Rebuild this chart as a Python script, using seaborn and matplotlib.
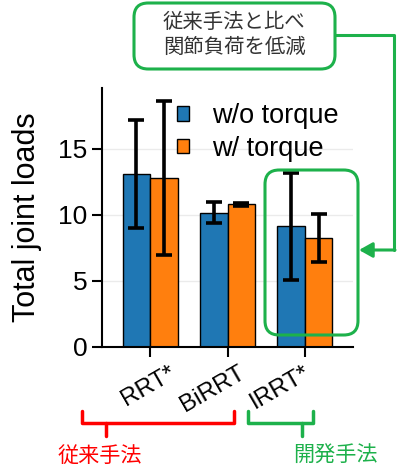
import numpy as np
import pandas as pd
import matplotlib
matplotlib.use("Agg")
import matplotlib.pyplot as plt
import matplotlib.transforms as mtransforms
import seaborn as sns
from matplotlib.lines import Line2D
from matplotlib.patches import FancyBboxPatch, FancyArrowPatch

# Data
planners = ["RRT*", "BiRRT", "IRRT*"]
conditions = ["w/o torque", "w/ torque"]
load_wo = [13.1, 10.15, 9.15]
load_w = [12.8, 10.8, 8.25]
err_wo = [4.1, 0.8, 4.05]
err_w = [5.8, 0.1, 1.85]

callout_text = "従来手法と比べ\n関節負荷を低減"
group_labels = ["従来手法", "開発手法"]

RED = "#ff0000"
GREEN = "#1db14b"
W, H = 407, 471
JP = ["Noto Sans CJK JP", "DejaVu Sans"]


def px(x, y):
    """pixel (from top-left) -> figure fraction"""
    return x / W, 1 - y / H


df = pd.DataFrame({
    "planner": planners * 2,
    "cond": [conditions[0]] * 3 + [conditions[1]] * 3,
    "load": load_wo + load_w,
})

sns.set_style("ticks")
plt.rcParams["font.family"] = ["Liberation Sans", "Noto Sans CJK JP", "DejaVu Sans"]
plt.rcParams.update({"text.color": "black", "axes.labelcolor": "black",
                     "xtick.color": "black", "ytick.color": "black",
                     "axes.edgecolor": "black"})

fig = plt.figure(figsize=(W / 100, H / 100), dpi=100)
ax = fig.add_axes([px(102, 0)[0], px(0, 347)[1], (353 - 102) / W, (347 - 88) / H])

sns.barplot(data=df, x="planner", y="load", hue="cond", hue_order=conditions,
            palette=["#1f77b4", "#ff7f0e"], saturation=1, edgecolor="black",
            linewidth=1, width=0.71, errorbar=None, ax=ax, zorder=2)

# error bars on top of the drawn bars
for cont, errs in zip(ax.containers, [err_wo, err_w]):
    for bar, e in zip(cont, errs):
        xc = bar.get_x() + bar.get_width() / 2
        ax.errorbar(xc, bar.get_height(), yerr=e, color="black", lw=2.6,
                    capsize=5.5, capthick=2.6, zorder=3)

ax.set_xlim(-0.62, 2.62)
ax.set_ylim(0, 19.6)
ax.set_yticks([0, 5, 10, 15])
ax.yaxis.grid(True, color="#ebebeb", lw=1, zorder=0)
ax.set_axisbelow(True)
sns.despine(ax=ax)
for s in ["left", "bottom"]:
    ax.spines[s].set_linewidth(1.5)
ax.tick_params(axis="both", length=7, width=1.5, direction="out")
ax.tick_params(axis="y", labelsize=19)
ax.set_xlabel("")
ax.set_ylabel("Total joint loads", fontsize=22, labelpad=12)
ax.set_xticks(range(len(planners)))
ax.set_xticklabels(planners, rotation=30, ha="right", rotation_mode="anchor", fontsize=17.5)
# nudge the rotated labels as in the original
for lab, dx in zip(ax.get_xticklabels(), [18, 10, -2]):
    lab.set_transform(lab.get_transform() +
                      mtransforms.ScaledTranslation(dx / 100, 0, fig.dpi_scale_trans))

ax.legend(frameon=False, fontsize=19.5, loc="upper left",
          bbox_to_anchor=px(177, 103), bbox_transform=fig.transFigure,
          handlelength=0.45, handleheight=0.45, handletextpad=0.85,
          labelspacing=0.25, borderpad=0, borderaxespad=0)

# rounded box around IRRT*
fig.add_artist(FancyBboxPatch(px(265, 335), (358 - 265) / W, (335 - 170) / H,
                              boxstyle="round,pad=0,rounding_size=0.035",
                              transform=fig.transFigure, fill=False,
                              ec=GREEN, lw=2.2, mutation_aspect=W / H))

# callout box
fig.add_artist(FancyBboxPatch(px(134, 69), (335 - 134) / W, (69 - 3) / H,
                              boxstyle="round,pad=0,rounding_size=0.035",
                              transform=fig.transFigure, fill=False,
                              ec=GREEN, lw=2.2, mutation_aspect=W / H))
fig.text(*px(234, 35), callout_text, ha="center", va="center", fontsize=14.7,
         linespacing=1.25, color="#333333", family=JP)

# connector with arrow
fig.add_artist(Line2D([px(335, 0)[0], px(394, 0)[0], px(394, 0)[0]],
                      [px(0, 35)[1], px(0, 35)[1], px(0, 250)[1]],
                      transform=fig.transFigure, color=GREEN, lw=2.2))
fig.add_artist(FancyArrowPatch(px(395, 250), px(359, 250), transform=fig.transFigure,
                               arrowstyle="-|>,head_length=8,head_width=4.5",
                               color=GREEN, lw=2.2, shrinkA=0, shrinkB=0))


# brackets below the axis
def bracket(x0, x1, xs, color):
    fig.add_artist(Line2D([px(x0, 0)[0], px(x0, 0)[0], px(x1, 0)[0], px(x1, 0)[0]],
                          [px(0, 411)[1], px(0, 423)[1], px(0, 423)[1], px(0, 411)[1]],
                          transform=fig.transFigure, color=color, lw=2.5,
                          solid_joinstyle="round"))
    fig.add_artist(Line2D([px(xs, 0)[0]] * 2, [px(0, 423)[1], px(0, 436)[1]],
                          transform=fig.transFigure, color=color, lw=2.5))


bracket(82, 234, 106, RED)
bracket(248, 313, 302, GREEN)
fig.text(*px(100, 456), group_labels[0], ha="center", va="center", fontsize=15.2,
         color=RED, family=JP)
fig.text(*px(335, 456), group_labels[1], ha="center", va="center", fontsize=15.2,
         color=GREEN, family=JP)

fig.savefig("out.png", dpi=100)
